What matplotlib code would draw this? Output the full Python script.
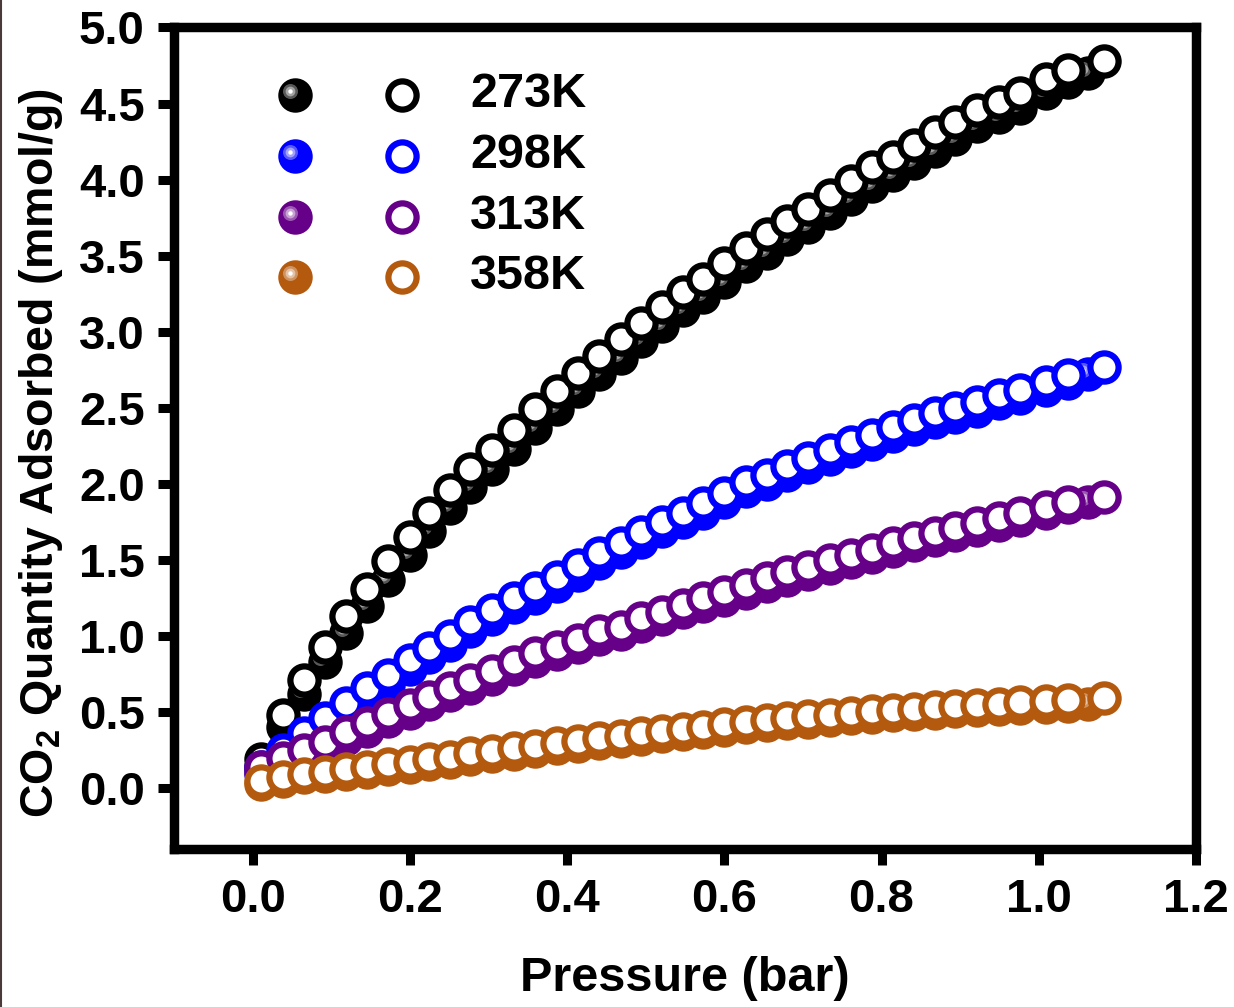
import matplotlib
matplotlib.use("Agg")
import matplotlib.pyplot as plt
from matplotlib.transforms import offset_copy
from matplotlib.lines import Line2D

plt.rcParams['font.family'] = ['Liberation Sans', 'DejaVu Sans']
plt.rcParams['font.weight'] = 'bold'
plt.rcParams['mathtext.fontset'] = 'custom'
plt.rcParams['mathtext.rm'] = 'Liberation Sans:bold'
plt.rcParams['mathtext.bf'] = 'Liberation Sans:bold'

# ---- CO2 isotherm data (pressure in bar, uptake in mmol/g) ----
temperatures = ["273K", "298K", "313K", "358K"]
colors = ["#000000", "#0000FF", "#660088", "#B45A0F"]

p_des = [0.011, 0.039, 0.066, 0.092, 0.119, 0.145, 0.172, 0.200, 0.224, 0.251,
         0.277, 0.304, 0.332, 0.359, 0.387, 0.414, 0.440, 0.468, 0.494, 0.521,
         0.547, 0.573, 0.600, 0.627, 0.654, 0.680, 0.707, 0.735, 0.761, 0.788,
         0.815, 0.841, 0.868, 0.894, 0.921, 0.950, 0.976, 1.009, 1.037, 1.083]
p_ads = [0.011, 0.039, 0.066, 0.092, 0.119, 0.145, 0.172, 0.200, 0.224, 0.251,
         0.277, 0.304, 0.332, 0.359, 0.387, 0.414, 0.440, 0.468, 0.494, 0.521,
         0.547, 0.573, 0.600, 0.627, 0.654, 0.680, 0.707, 0.735, 0.761, 0.788,
         0.815, 0.841, 0.868, 0.894, 0.921, 0.950, 0.976, 1.009, 1.037, 1.062]

q_ads_273 = [0.14, 0.40, 0.62, 0.83, 1.02, 1.20, 1.37, 1.53, 1.69, 1.84,
             1.98, 2.10, 2.23, 2.37, 2.49, 2.61, 2.72, 2.83, 2.94, 3.04,
             3.14, 3.23, 3.33, 3.43, 3.52, 3.61, 3.69, 3.78, 3.87, 3.96,
             4.03, 4.11, 4.19, 4.27, 4.35, 4.41, 4.47, 4.57, 4.64, 4.70]
q_des_273 = [0.19, 0.48, 0.71, 0.93, 1.13, 1.31, 1.49, 1.65, 1.81, 1.96,
             2.10, 2.22, 2.355, 2.49, 2.61, 2.73, 2.84, 2.95, 3.06, 3.16,
             3.26, 3.35, 3.45, 3.55, 3.64, 3.73, 3.81, 3.90, 3.99, 4.08,
             4.15, 4.23, 4.31, 4.38, 4.46, 4.51, 4.57, 4.66, 4.72, 4.78]

q_ads_298 = [0.10, 0.21, 0.31, 0.41, 0.50, 0.60, 0.68, 0.78, 0.86, 0.94,
             1.03, 1.11, 1.19, 1.25, 1.33, 1.40, 1.48, 1.55, 1.62, 1.69,
             1.75, 1.81, 1.88, 1.95, 2.00, 2.06, 2.11, 2.165, 2.215, 2.26,
             2.315, 2.36, 2.405, 2.44, 2.48, 2.53, 2.565, 2.62, 2.665, 2.72]
q_des_298 = [0.14, 0.25, 0.36, 0.46, 0.557, 0.656, 0.743, 0.842, 0.919, 1.00,
             1.09, 1.17, 1.248, 1.314, 1.39, 1.467, 1.544, 1.61, 1.686, 1.75,
             1.807, 1.873, 1.94, 2.01, 2.06, 2.12, 2.17, 2.224, 2.275, 2.32,
             2.377, 2.42, 2.465, 2.50, 2.54, 2.586, 2.62, 2.673, 2.717, 2.77]

q_ads_313 = [0.10, 0.15, 0.20, 0.255, 0.32, 0.375, 0.44, 0.495, 0.55, 0.61,
             0.66, 0.72, 0.78, 0.835, 0.88, 0.925, 0.98, 1.01, 1.065, 1.11,
             1.155, 1.20, 1.24, 1.285, 1.33, 1.37, 1.405, 1.45, 1.485, 1.52,
             1.56, 1.595, 1.63, 1.665, 1.695, 1.73, 1.765, 1.81, 1.845, 1.88]
q_des_313 = [0.14, 0.195, 0.25, 0.305, 0.37, 0.426, 0.49, 0.546, 0.60, 0.66,
             0.71, 0.77, 0.83, 0.886, 0.93, 0.974, 1.03, 1.06, 1.116, 1.16,
             1.204, 1.248, 1.29, 1.336, 1.38, 1.423, 1.456, 1.50, 1.535, 1.566,
             1.61, 1.643, 1.676, 1.709, 1.74, 1.774, 1.807, 1.85, 1.883, 1.916]

q_ads_358 = [0.03, 0.05, 0.07, 0.08, 0.095, 0.107, 0.123, 0.14, 0.157, 0.173,
             0.193, 0.211, 0.227, 0.245, 0.262, 0.278, 0.295, 0.311, 0.325, 0.341,
             0.355, 0.37, 0.385, 0.399, 0.412, 0.425, 0.437, 0.449, 0.46, 0.47,
             0.479, 0.487, 0.497, 0.505, 0.512, 0.52, 0.528, 0.535, 0.543, 0.555]
q_des_358 = [0.05, 0.074, 0.095, 0.108, 0.127, 0.14, 0.158, 0.175, 0.192, 0.208,
             0.228, 0.246, 0.262, 0.28, 0.297, 0.313, 0.33, 0.346, 0.36, 0.376,
             0.39, 0.405, 0.42, 0.434, 0.447, 0.46, 0.472, 0.484, 0.495, 0.505,
             0.514, 0.522, 0.532, 0.54, 0.547, 0.555, 0.563, 0.57, 0.578, 0.59]

ads_series = [q_ads_273, q_ads_298, q_ads_313, q_ads_358]
des_series = [q_des_273, q_des_298, q_des_313, q_des_358]

x_ticks = [0.0, 0.2, 0.4, 0.6, 0.8, 1.0, 1.2]
y_ticks = [0.0, 0.5, 1.0, 1.5, 2.0, 2.5, 3.0, 3.5, 4.0, 4.5, 5.0]

# ---- figure ----
fig = plt.figure(figsize=(12.34, 10.07), dpi=100)
ax = fig.add_axes([0.1410, 0.1569, 0.9692 - 0.1410, 0.9727 - 0.1569])

MS = 20.3    # marker path diameter (pt)
MEW = 4.5    # ring width (pt)


def glossy(ax, xs, ys, color, transform):
    """Filled sphere-like marker: solid disc plus a soft specular spot."""
    ax.plot(xs, ys, ls='none', marker='o', ms=MS, mew=MEW, mfc=color,
            mec=color, transform=transform)
    hl = offset_copy(transform, fig=fig, x=-4.5, y=4.0, units='dots')
    for size, alpha in [(10.8, 0.35), (7.0, 0.45), (3.2, 1.0)]:
        ax.plot(xs, ys, ls='none', marker='o', ms=size, mew=0,
                mfc='white', alpha=alpha, transform=hl)


def hollow(ax, xs, ys, color, transform):
    ax.plot(xs, ys, ls='none', marker='o', ms=MS, mew=MEW, mfc='white',
            mec=color, transform=transform)


for color, qa, qd in zip(colors, ads_series, des_series):
    glossy(ax, p_ads, qa, color, ax.transData)
    hollow(ax, p_des, qd, color, ax.transData)

# legend: filled (adsorption) and open (desorption) symbols per temperature
leg_rows = [0.9184, 0.8441, 0.7698, 0.6967]
for label, color, yr in zip(temperatures, colors, leg_rows):
    glossy(ax, [0.1184], [yr], color, ax.transAxes)
    hollow(ax, [0.2231], [yr], color, ax.transAxes)
    ax.text(0.2896, yr, label, transform=ax.transAxes, fontsize=35,
            fontweight='bold', va='center', ha='left')

ax.set_xlim(-0.1, 1.2)
ax.set_ylim(-0.4, 5.0)
ax.set_xticks(x_ticks)
ax.set_xticklabels([f"{v:.1f}" for v in x_ticks])
ax.set_yticks(y_ticks)
ax.set_yticklabels([f"{v:.1f}" for v in y_ticks])

for s in ax.spines.values():
    s.set_linewidth(6.8)
ax.tick_params(axis='both', which='major', direction='out', length=11.5,
               width=6.5, labelsize=34, pad=9.5)
for lab in ax.get_xticklabels() + ax.get_yticklabels():
    lab.set_fontweight('bold')

ax.set_xlabel("Pressure (bar)", fontsize=35, fontweight='bold', labelpad=24)
ax.set_ylabel(r"CO$_\mathbf{2}$ Quantity Adsorbed (mmol/g)", fontsize=33.5,
              fontweight='bold')
ax.yaxis.set_label_coords(-0.107, 0.482)

# thin frame line along the left edge of the image
fig.add_artist(Line2D([0.001, 0.001], [0, 1], transform=fig.transFigure,
                      color='#4a3a3a', lw=1.5))

fig.savefig("out.png", dpi=100)
